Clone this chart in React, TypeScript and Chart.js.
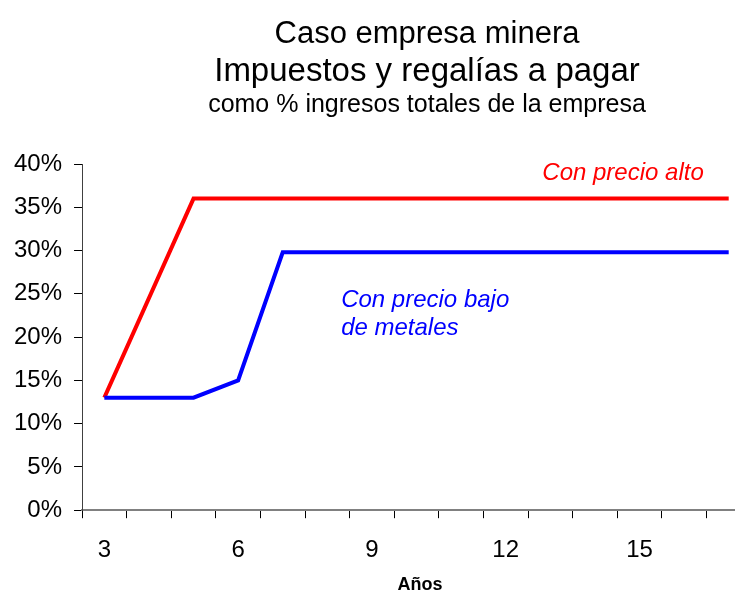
import React, { useEffect, useRef } from "react";
import { Chart, registerables } from "chart.js";

Chart.register(...registerables);

const years = [3, 4, 5, 6, 7, 8, 9, 10, 11, 12, 13, 14, 15, 16, 17];
const highPrice = [13, 24.5, 36, 36, 36, 36, 36, 36, 36, 36, 36, 36, 36, 36, 36];
const lowPrice = [13, 13, 13, 15, 29.8, 29.8, 29.8, 29.8, 29.8, 29.8, 29.8, 29.8, 29.8, 29.8, 29.8];
const shownYearLabels = [3, 6, 9, 12, 15];
const titleLines = ["Caso empresa minera", "Impuestos y regalías a pagar"];
const subtitleLine = "como % ingresos totales de la empresa";
const highLabel = "Con precio alto";
const lowLabelLines = ["Con precio bajo", "de metales"];
const xAxisTitle = "Años";

const FONT = "'Liberation Sans', Arial, sans-serif";

const annotationPlugin = {
  id: "annotations",
  afterDraw(chart: any) {
    const ctx = chart.ctx;
    const xs = chart.scales.x;
    const ys = chart.scales.y;
    ctx.save();
    ctx.fillStyle = "#000";
    ctx.textAlign = "center";
    ctx.textBaseline = "alphabetic";
    const cx = 419;
    ctx.font = `31px ${FONT}`;
    ctx.fillText(titleLines[0], cx, 35);
    ctx.font = `33px ${FONT}`;
    ctx.fillText(titleLines[1], cx, 73);
    ctx.font = `25px ${FONT}`;
    ctx.fillText(subtitleLine, cx, 104);

    ctx.font = `bold 18px ${FONT}`;
    ctx.textBaseline = "middle";
    ctx.fillText(xAxisTitle, 412, 577);
    ctx.textBaseline = "alphabetic";

    ctx.font = `italic 24px ${FONT}`;
    ctx.fillStyle = "#ff0000";
    ctx.textAlign = "right";
    ctx.fillText(highLabel, xs.getPixelForValue(13.44), ys.getPixelForValue(38.2));

    ctx.fillStyle = "#0000ff";
    ctx.textAlign = "left";
    ctx.fillText(lowLabelLines[0], xs.getPixelForValue(5.31), ys.getPixelForValue(23.5));
    ctx.fillText(lowLabelLines[1], xs.getPixelForValue(5.31), ys.getPixelForValue(20.3));
    ctx.restore();
  },
};

export default function App() {
  const ref = useRef<HTMLCanvasElement | null>(null);
  useEffect(() => {
    if (!ref.current) return;
    const chart = new Chart(ref.current, {
      type: "line",
      data: {
        labels: years.map(String),
        datasets: [
          {
            label: "bajo",
            data: lowPrice,
            borderColor: "#0000ff",
            borderWidth: 4,
            pointRadius: 0,
            borderJoinStyle: "miter",
            tension: 0,
          },
          {
            label: "alto",
            data: highPrice,
            borderColor: "#ff0000",
            borderWidth: 4,
            pointRadius: 0,
            borderJoinStyle: "miter",
            tension: 0,
          },
        ],
      },
      options: {
        responsive: false,
        animation: false,
        devicePixelRatio: 1,
        layout: { padding: { top: 156, left: -6, right: 0, bottom: 12 } },
        plugins: {
          legend: { display: false },
          tooltip: { enabled: false },
          title: { display: false },
        },
        scales: {
          x: {
            type: "category",
            offset: true,
            grid: {
              offset: true,
              drawOnChartArea: false,
              drawTicks: true,
              tickLength: 8,
              color: "#000",
            },
            border: { display: true, color: "#808080", width: 2 },
            ticks: {
              autoSkip: false,
              maxRotation: 0,
              padding: 18,
              color: "#000",
              font: { family: FONT, size: 24 },
              callback: (_v: any, i: number) =>
                shownYearLabels.includes(years[i]) ? String(years[i]) : "",
            },
          },
          y: {
            min: 0,
            max: 40,
            grid: {
              drawOnChartArea: false,
              drawTicks: true,
              tickLength: 8,
              color: "#000",
            },
            border: { display: true, color: "#404040", width: 1 },
            ticks: {
              stepSize: 5,
              padding: 12,
              color: "#000",
              font: { family: FONT, size: 24 },
              callback: (v: any) => `${v}%`,
            },
          },
        },
      },
      plugins: [annotationPlugin],
    });
    return () => chart.destroy();
  }, []);
  return (
    <div style={{ width: 735, height: 587, overflow: "hidden" }}>
      <canvas ref={ref} width={743} height={587} style={{ display: "block" }} />
    </div>
  );
}
